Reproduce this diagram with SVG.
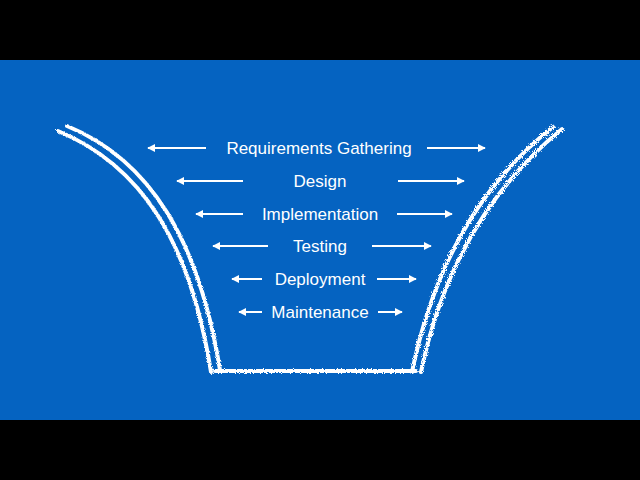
<svg xmlns="http://www.w3.org/2000/svg" width="640" height="480" viewBox="0 0 640 480">
<defs>
<filter id="chalk" x="-10%" y="-10%" width="120%" height="120%">
<feTurbulence type="fractalNoise" baseFrequency="0.9" numOctaves="2" result="n"/>
<feDisplacementMap in="SourceGraphic" in2="n" scale="4"/>
</filter>
<marker id="ah" viewBox="0 0 10 10" refX="9" refY="5" markerWidth="4" markerHeight="4" orient="auto-start-reverse">
<path d="M0,0 L10,5 L0,10 z" fill="#fff"/>
</marker>
<style>
.l{fill:none;stroke:#fff;stroke-width:4;stroke-linecap:round}
.a{stroke:#fff;stroke-width:2;fill:none;marker-end:url(#ah)}
.t{font-family:"Helvetica","Liberation Sans",Arial,sans-serif;font-size:17px;fill:#fff;text-anchor:middle}
</style>
</defs>
<rect width="640" height="480" fill="#000"/>
<rect y="60" width="640" height="360" fill="#0563c1"/>
<g id="funnel" filter="url(#chalk)">
<path class="l" d="M58,131 C140,165 190,240 211,372"/>
<path class="l" d="M67,126 C150,160 199,240 220,370"/>
<path class="l" d="M215,371 L416,371"/>
<path class="l" d="M412,372 C436,255 488,178 553,127"/>
<path class="l" d="M421,372 C445,257 498,181 562,129"/>
</g>
<g id="connectors">
<line class="a" x1="206" y1="148" x2="148" y2="148"/><line class="a" x1="427" y1="148" x2="485" y2="148"/>
<line class="a" x1="243" y1="181" x2="177" y2="181"/><line class="a" x1="398" y1="181" x2="464" y2="181"/>
<line class="a" x1="243" y1="214" x2="196" y2="214"/><line class="a" x1="397" y1="214" x2="452" y2="214"/>
<line class="a" x1="268" y1="246" x2="213" y2="246"/><line class="a" x1="372" y1="246" x2="431" y2="246"/>
<line class="a" x1="262" y1="279" x2="232" y2="279"/><line class="a" x1="377" y1="279" x2="416" y2="279"/>
<line class="a" x1="262" y1="312" x2="239" y2="312"/><line class="a" x1="378" y1="312" x2="402" y2="312"/>
</g>
<g id="n1"><text class="t" x="319" y="154">Requirements Gathering</text></g>
<g id="n2"><text class="t" x="320" y="187">Design</text></g>
<g id="n3"><text class="t" x="320" y="220">Implementation</text></g>
<g id="n4"><text class="t" x="320" y="252">Testing</text></g>
<g id="n5"><text class="t" x="320" y="285">Deployment</text></g>
<g id="n6"><text class="t" x="320" y="318">Maintenance</text></g>
</svg>
